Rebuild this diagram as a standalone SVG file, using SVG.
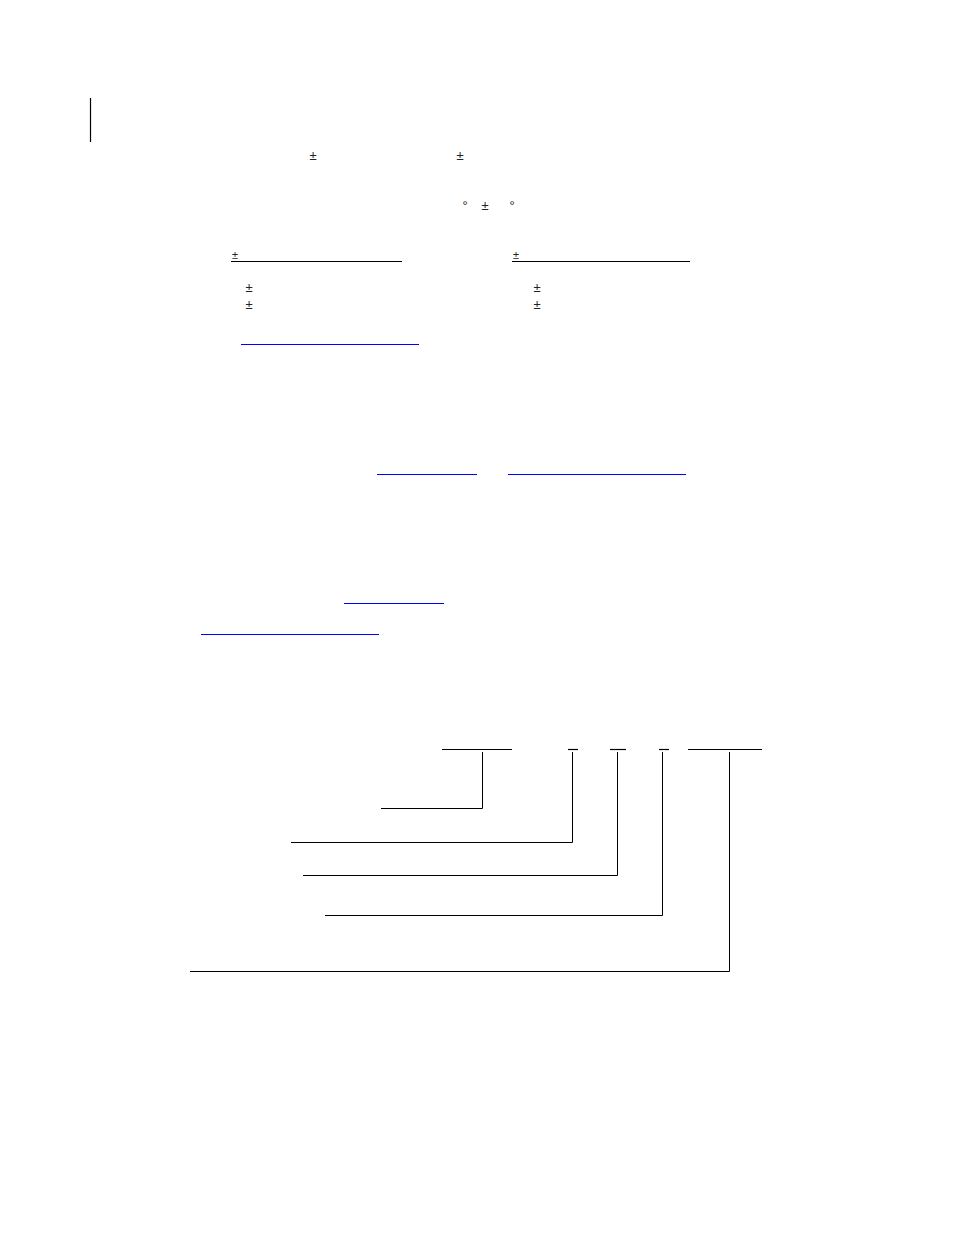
<svg xmlns="http://www.w3.org/2000/svg" width="954" height="1235" viewBox="0 0 954 1235">
<style>
.t{font-family:"Liberation Sans",Arial,sans-serif;font-size:13px;fill:#222;text-anchor:middle}
.s{font-size:11px}
.k{stroke:#000;stroke-width:1;fill:none}
.u{stroke:#000;stroke-width:1.2;fill:none}
.b{stroke:#0000ff;stroke-width:1.2;fill:none}
</style>
<rect width="954" height="1235" fill="#fff"/>
<g id="margin-bar"><line class="u" x1="90.5" y1="98" x2="90.5" y2="142"/></g>
<g id="symbols">
<text class="t" x="313" y="159.5">±</text>
<text class="t" x="460" y="159.5">±</text>
<text class="t" x="465" y="210">°</text>
<text class="t" x="485" y="209.5">±</text>
<text class="t" x="512" y="210">°</text>
<text class="t s" x="235" y="258.5">±</text>
<text class="t s" x="516" y="258.5">±</text>
<text class="t" x="249" y="292">±</text>
<text class="t" x="249" y="308.5">±</text>
<text class="t" x="537" y="292">±</text>
<text class="t" x="537" y="308.5">±</text>
</g>
<g id="underlines">
<line class="u" x1="231" y1="261.5" x2="402" y2="261.5"/>
<line class="u" x1="512" y1="261.5" x2="690" y2="261.5"/>
</g>
<g id="links">
<line class="b" x1="241" y1="344.5" x2="419" y2="344.5"/>
<line class="b" x1="377" y1="474.5" x2="477" y2="474.5"/>
<line class="b" x1="508" y1="474.5" x2="686" y2="474.5"/>
<line class="b" x1="344" y1="603.5" x2="444" y2="603.5"/>
<line class="b" x1="201" y1="634.5" x2="379" y2="634.5"/>
</g>
<g id="fields">
<line class="u" x1="442" y1="749.5" x2="512" y2="749.5"/>
<line class="u" x1="568" y1="749.5" x2="578" y2="749.5"/>
<line class="u" x1="610" y1="749.5" x2="626" y2="749.5"/>
<line class="u" x1="659" y1="749.5" x2="669" y2="749.5"/>
<line class="u" x1="688" y1="749.5" x2="762" y2="749.5"/>
</g>
<g id="connectors">
<polyline class="k" points="482.5,752 482.5,808.5 381,808.5"/>
<polyline class="k" points="572.5,752 572.5,842.5 291,842.5"/>
<polyline class="k" points="617.5,752 617.5,875.5 303,875.5"/>
<polyline class="k" points="662.5,752 662.5,915.5 325,915.5"/>
<polyline class="k" points="729.5,752 729.5,971.5 190,971.5"/>
</g>
</svg>
